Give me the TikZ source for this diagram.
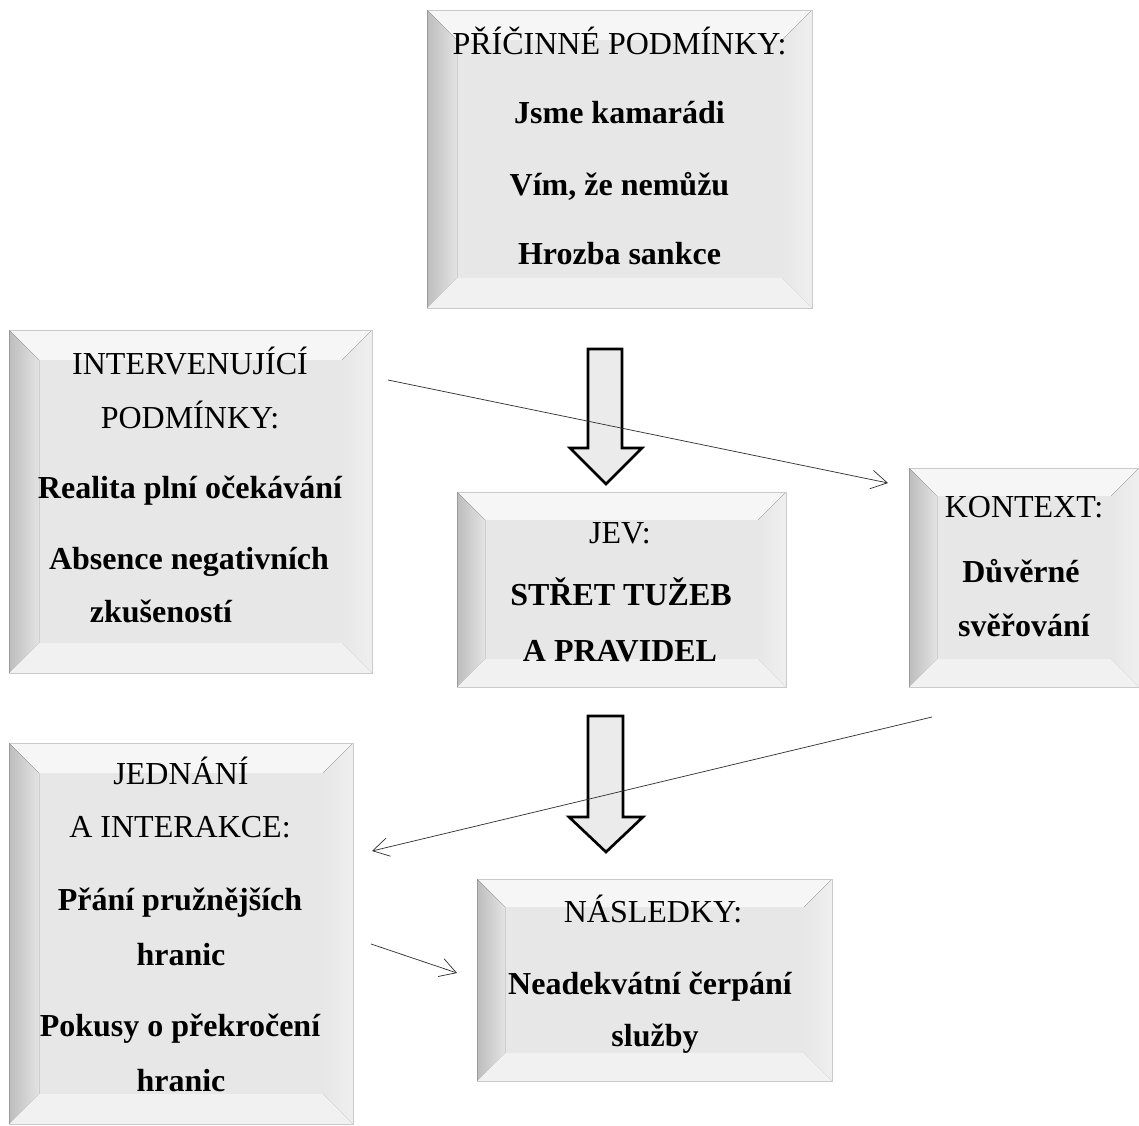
\documentclass[tikz,border=0pt]{standalone}
\usepackage{fontspec}
\setmainfont{Liberation Serif}
\usepackage{tikz}
\usetikzlibrary{arrows.meta}

\definecolor{bvcenter}{HTML}{E7E7E7}
\definecolor{bvtop}{HTML}{F6F6F6}
\definecolor{bvleftout}{HTML}{BDBDBD}
\definecolor{bvleftin}{HTML}{E3E3E3}
\definecolor{bvright}{HTML}{EFEFEF}
\definecolor{bvbottom}{HTML}{F1F1F1}
\definecolor{bvedge}{HTML}{CACACA}
\definecolor{arrfill}{HTML}{EBEBEB}

\tikzset{
  lbl/.style={anchor=base,inner sep=0.75pt,font=\fontsize{24}{29}\selectfont},
  lblb/.style={lbl,font=\fontsize{24}{29}\selectfont\bfseries},
  blockarr/.style={draw=black,fill=arrfill,line width=2pt,miter limit=4},
  thinarr/.style={draw=black!80,line width=0.55pt,-{Straight Barb[length=12pt,width=14pt]}}
}

% bevelled box: x1, y1, x2, y2, inset
\newcommand{\bevelbox}[5]{%
  \fill[bvcenter] (#1,#2) rectangle (#3,#4);
  \fill[bvtop] (#1,#2) -- (#3,#2) -- ({#3-#5},{#2+#5}) -- ({#1+#5},{#2+#5}) -- cycle;
  \fill[left color=bvleftout,right color=bvleftin] (#1,#2) -- ({#1+#5},{#2+#5}) -- ({#1+#5},{#4-#5}) -- (#1,#4) -- cycle;
  \fill[left color=bvcenter,right color=bvright] (#3,#2) -- ({#3-#5},{#2+#5}) -- ({#3-#5},{#4-#5}) -- (#3,#4) -- cycle;
  \fill[bvbottom] (#1,#4) -- ({#1+#5},{#4-#5}) -- ({#3-#5},{#4-#5}) -- (#3,#4) -- cycle;
  \draw[bvedge,line width=0.5pt] (#1,#2) rectangle (#3,#4);
  \draw[gray!80,line width=0.6pt] (#1,#2) -- (#1,#4);
}

\begin{document}
\begin{tikzpicture}[x=0.75pt,y=0.75pt,yscale=-1,xscale=1]
\useasboundingbox (0,0) rectangle (1139,1126);

%Shape: Bevel [pricinne]
\bevelbox{427}{10}{812}{308}{30}
%Shape: Bevel [intervenujici]
\bevelbox{9}{330}{372}{673}{30}
%Shape: Bevel [jev]
\bevelbox{457}{492}{786}{687}{28}
%Shape: Bevel [kontext]
\bevelbox{909}{468}{1139}{687}{28}
%Shape: Bevel [jednani]
\bevelbox{9}{743}{353}{1124}{30}
%Shape: Bevel [nasledky]
\bevelbox{477}{879}{832}{1081}{28}

%Shape: Down Arrow [top]
\draw[blockarr] (588,349) -- (622,349) -- (622,448) -- (642,448) -- (606,484) -- (570,448) -- (588,448) -- cycle ;
%Shape: Down Arrow [bottom]
\draw[blockarr] (588,716) -- (623,716) -- (623,817) -- (643,817) -- (606,852) -- (569,817) -- (588,817) -- cycle ;

% Arrow ends
\coordinate (intS) at (388,380);
\coordinate (konE) at (888,483);
\coordinate (konS) at (932,717);
\coordinate (jedE) at (372,851);
\coordinate (jedS) at (371,944);
\coordinate (nasE) at (457,973);

%Straight Lines
\draw[thinarr] (intS) -- (konE) ;
%Straight Lines
\draw[thinarr] (konS) -- (jedE) ;
%Straight Lines
\draw[thinarr] (jedS) -- (nasE) ;

% Text Node
\draw (619.5,55) node [lbl] (pri0) {PŘÍČINNÉ PODMÍNKY:};
% Text Node
\draw (619.5,124) node [lblb] (pri1) {Jsme kamarádi};
% Text Node
\draw (619.5,196) node [lblb] (pri2) {Vím, že nemůžu};
% Text Node
\draw (619.5,265) node [lblb] (pri3) {Hrozba sankce};

% Text Node
\draw (190,375) node [lbl] (int0) {INTERVENUJÍCÍ};
% Text Node
\draw (190,429) node [lbl] (int1) {PODMÍNKY:};
% Text Node
\draw (190,499) node [lblb] (int2) {Realita plní očekávání};
% Text Node
\draw (189,570) node [lblb] (int3) {Absence negativních};
% Text Node
\draw (161,623) node [lblb] (int4) {zkušeností};

% Text Node
\draw (620,544) node [lbl] (jev0) {JEV:};
% Text Node
\draw (621,605) node [lblb] (jev1) {STŘET TUŽEB};
% Text Node
\draw (620,661) node [lblb] (jev2) {A PRAVIDEL};

% Text Node
\draw (1024,518) node [lbl] (kon0) {KONTEXT:};
% Text Node
\draw (1021,582) node [lblb] (kon1) {Důvěrné};
% Text Node
\draw (1024,636) node [lblb] (kon2) {svěřování};

% Text Node
\draw (181,784) node [lbl] (jed0) {JEDNÁNÍ};
% Text Node
\draw (180,837) node [lbl] (jed1) {A INTERAKCE:};
% Text Node
\draw (180,910) node [lblb] (jed2) {Přání pružnějších};
% Text Node
\draw (181,965) node [lblb] (jed3) {hranic};
% Text Node
\draw (180,1036) node [lblb] (jed4) {Pokusy o překročení};
% Text Node
\draw (181,1091) node [lblb] (jed5) {hranic};

% Text Node
\draw (653,922) node [lbl] (nas0) {NÁSLEDKY:};
% Text Node
\draw (650,994) node [lblb] (nas1) {Neadekvátní čerpání};
% Text Node
\draw (655,1046) node [lblb] (nas2) {služby};

\end{tikzpicture}
\end{document}
